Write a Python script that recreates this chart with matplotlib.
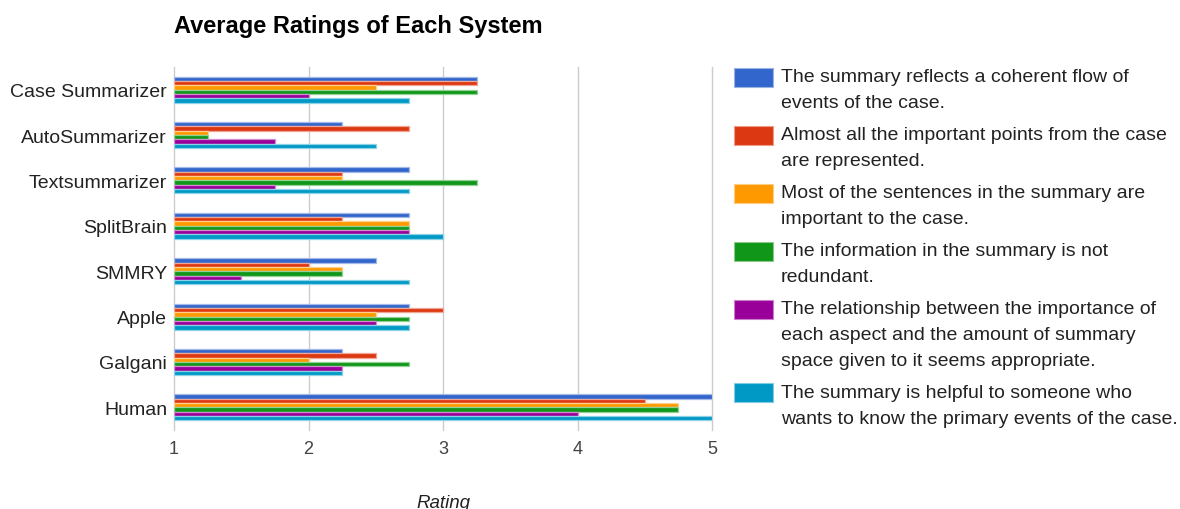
import matplotlib
matplotlib.use("Agg")
import matplotlib.pyplot as plt
from matplotlib.patches import Rectangle
from matplotlib.colors import to_rgb
import numpy as np

plt.rcParams['font.family'] = ['Liberation Sans', 'DejaVu Sans']

systems = ["Case Summarizer", "AutoSummarizer", "Textsummarizer", "SplitBrain",
           "SMMRY", "Apple", "Galgani", "Human"]
criteria = [
    "The summary reflects a coherent flow of\nevents of the case.",
    "Almost all the important points from the case\nare represented.",
    "Most of the sentences in the summary are\nimportant to the case.",
    "The information in the summary is not\nredundant.",
    "The relationship between the importance of\neach aspect and the amount of summary\nspace given to it seems appropriate.",
    "The summary is helpful to someone who\nwants to know the primary events of the case.",
]
colors = ["#3366cc", "#dc3912", "#ff9900", "#109618", "#990099", "#0099c6"]

coherent = [3.25, 2.25, 2.75, 2.75, 2.5, 2.75, 2.25, 5.0]
important_points = [3.25, 2.75, 2.25, 2.25, 2.0, 3.0, 2.5, 4.5]
important_sentences = [2.5, 1.25, 2.25, 2.75, 2.25, 2.5, 2.0, 4.75]
not_redundant = [3.25, 1.25, 3.25, 2.75, 2.25, 2.75, 2.75, 4.75]
relationship = [2.0, 1.75, 1.75, 2.75, 1.5, 2.5, 2.25, 4.0]
helpful = [2.75, 2.5, 2.75, 3.0, 2.75, 2.75, 2.25, 5.0]
series = [coherent, important_points, important_sentences, not_redundant, relationship, helpful]

x_ticks = [1, 2, 3, 4, 5]

W, H = 1180, 510
fig = plt.figure(figsize=(W / 100, H / 100), dpi=100)
ax = fig.add_axes([174 / W, 1 - 431 / H, (712 - 174) / W, (431 - 68) / H])

def lighten(c, f=0.5):
    r, g, b = to_rgb(c)
    return (r + (1 - r) * f, g + (1 - g) * f, b + (1 - b) * f)

pitch = 0.0955
ypos = np.arange(len(systems))
n = len(series)
for i, (vals, col) in enumerate(zip(series, colors)):
    offs = (i - (n - 1) / 2) * pitch
    widths = [v - 1 for v in vals]
    ax.barh(ypos + offs, widths, left=1, height=pitch, color=col,
            edgecolor=lighten(col, 0.55), linewidth=0.9, zorder=3)

ax.set_xlim(1, 5)
ax.set_ylim(len(systems) - 0.5, -0.5)
ax.set_xticks(x_ticks)
ax.set_xticklabels([str(t) for t in x_ticks])
ax.set_yticks(ypos)
ax.set_yticklabels(systems)
for s in ax.spines.values():
    s.set_visible(False)
ax.xaxis.grid(True, color="#cccccc", linewidth=1.0, zorder=0)
for gl in ax.get_xgridlines():
    gl.set_clip_on(False)
ax.tick_params(axis='x', length=0, pad=7, labelsize=13, labelcolor="#444444")
ax.tick_params(axis='y', length=0, pad=5, labelsize=14, labelcolor="#222222")
ax.set_xlabel("Rating", fontstyle='italic', fontsize=13.5, color="#222222", labelpad=27)

fig.text(174 / W, 1 - 26 / H, "Average Ratings of Each System", fontsize=17,
         fontweight='bold', color="#000000", va='center', ha='left')

# legend
line_h = 25.8
y = 78
for lab, col in zip(criteria, colors):
    lines = lab.split("\n")
    fig.patches.append(Rectangle((734 / W, 1 - (y + 10) / H), 39 / W, 19 / H,
                                 transform=fig.transFigure, facecolor=col,
                                 edgecolor=lighten(col, 0.5), linewidth=0.8))
    for k, ln in enumerate(lines):
        fig.text(781 / W, 1 - (y + k * line_h) / H, ln, fontsize=14,
                 color="#222222", va='center', ha='left')
    y += len(lines) * line_h + 6.3

fig.savefig("out.png", dpi=100)
